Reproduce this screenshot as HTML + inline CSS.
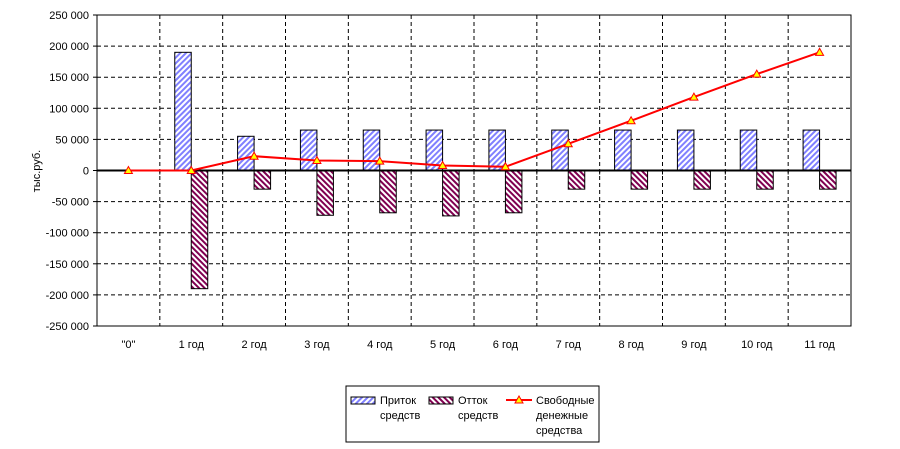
<!DOCTYPE html>
<html><head><meta charset="utf-8"><style>body{margin:0;background:#fff}svg{display:block}text{font-family:"Liberation Sans",Arial,sans-serif;font-size:11px;fill:#000}</style></head><body>
<svg width="900" height="449" viewBox="0 0 900 449">
<defs>
<pattern id="pin" width="4" height="4" patternUnits="userSpaceOnUse" patternTransform="rotate(45)"><rect width="4" height="4" fill="#fff"/><rect width="2" height="4" fill="#8080ff"/></pattern>
<pattern id="pout" width="4" height="4" patternUnits="userSpaceOnUse" patternTransform="rotate(-45)"><rect width="4" height="4" fill="#fff"/><rect width="2" height="4" fill="#800050"/></pattern>
</defs>
<rect x="97" y="15" width="754" height="311" fill="#fff" stroke="#000"/>
<g id="g"></g>
</svg>
<script>
const s=document.querySelector('svg'),g=document.getElementById('g'),N='http://www.w3.org/2000/svg';
function el(t,a,txt){const e=document.createElementNS(N,t);for(const k in a)e.setAttribute(k,a[k]);if(txt!=null)e.textContent=txt;g.appendChild(e);return e}
const X0=97,W=754/12,Y=v=>170.5-v*311/500000;
for(let i=1;i<12;i++)el('line',{x1:X0+i*W,x2:X0+i*W,y1:15,y2:326,stroke:'#000','stroke-dasharray':'4,3'});
for(let v=-250000;v<=250000;v+=50000){const y=Y(v);if(v!==250000&&v!==-250000&&v!==0)el('line',{x1:97,x2:851,y1:y,y2:y,stroke:'#000','stroke-dasharray':'4,3'});
el('line',{x1:93,x2:97,y1:y,y2:y,stroke:'#000'});
el('text',{x:89,y:y+4,'text-anchor':'end'},v===0?'0':(v<0?'-':'')+Math.floor(Math.abs(v)/1000)+' 000');}
const inv=[0,190000,55000,65000,65000,65000,65000,65000,65000,65000,65000,65000];
const outv=[0,-190000,-30000,-72000,-68000,-73000,-68000,-30000,-30000,-30000,-30000,-30000];
const ln=[0,0,23000,16000,15000,8000,6000,43000,80000,118000,155000,190000];
const labs=['"0"','1 год','2 год','3 год','4 год','5 год','6 год','7 год','8 год','9 год','10 год','11 год'];
for(let i=0;i<12;i++){const c=X0+(i+0.5)*W;
if(inv[i])el('rect',{x:c-16.5,y:Y(inv[i]),width:16.5,height:Y(0)-Y(inv[i]),fill:'url(#pin)',stroke:'#000'});
if(outv[i])el('rect',{x:c,y:Y(0),width:16.5,height:Y(outv[i])-Y(0),fill:'url(#pout)',stroke:'#000'});
el('text',{x:c,y:348,'text-anchor':'middle'},labs[i]);}
el('line',{x1:97,x2:851,y1:Y(0),y2:Y(0),stroke:'#000','stroke-width':2});
for(let i=0;i<=12;i++)el('line',{x1:X0+i*W,x2:X0+i*W,y1:Y(0),y2:Y(0)+4,stroke:'#000'});
el('polyline',{points:ln.map((v,i)=>(X0+(i+0.5)*W)+','+Y(v)).join(' '),fill:'none',stroke:'#f00','stroke-width':2});
ln.forEach((v,i)=>{const c=X0+(i+0.5)*W,y=Y(v);el('polygon',{points:`${c-4},${y+3} ${c+4},${y+3} ${c},${y-4}`,fill:'#ff0',stroke:'#f00'})});
const t=el('text',{x:0,y:0,transform:'translate(40,171) rotate(-90)','text-anchor':'middle'},'тыс.руб.');
el('rect',{x:346,y:386,width:253,height:56,fill:'#fff',stroke:'#000'});
el('rect',{x:351,y:397,width:24,height:7,fill:'url(#pin)',stroke:'#000'});
el('text',{x:380,y:404},'Приток');el('text',{x:380,y:419},'средств');
el('rect',{x:429,y:397,width:24,height:7,fill:'url(#pout)',stroke:'#000'});
el('text',{x:458,y:404},'Отток');el('text',{x:458,y:419},'средств');
el('line',{x1:506,x2:532,y1:400,y2:400,stroke:'#f00','stroke-width':2});
el('polygon',{points:'515,403 523,403 519,396',fill:'#ff0',stroke:'#f00'});
el('text',{x:536,y:404},'Свободные');el('text',{x:536,y:419},'денежные');el('text',{x:536,y:434},'средства');
</script>
</body></html>
